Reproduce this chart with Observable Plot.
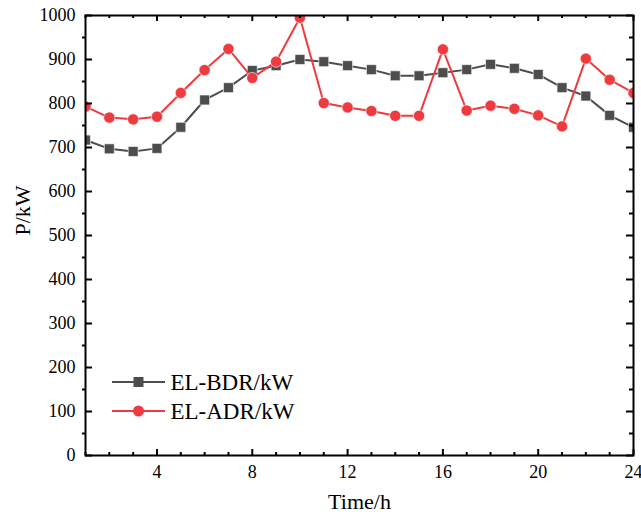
<!DOCTYPE html>
<html><head><meta charset="utf-8">
<script src="https://cdn.jsdelivr.net/npm/d3@7"></script>
<script src="https://cdn.jsdelivr.net/npm/@observablehq/plot@0.6"></script>
<style>body{margin:0;background:#fff}</style>
</head><body><div id="chart"></div>
<script>
const hours = [1,2,3,4,5,6,7,8,9,10,11,12,13,14,15,16,17,18,19,20,21,22,23,24];
const bdr = [717,697,691,698,746,808,836,875,886,900,895,886,877,863,863,870,877,889,880,866,836,817,773,746];
const adr = [793,768,764,770,824,876,924,858,895,995,801,791,783,772,772,923,784,795,788,773,748,902,854,824];
const seriesNames = ["EL-BDR/kW", "EL-ADR/kW"];
const seriesSymbols = ["square", "circle"];
const colors = ["#4d4d4d", "#ee3b3f"];
const xMajor = [4,8,12,16,20,24];
const xMinor = [1,2,3,5,6,7,9,10,11,13,14,15,17,18,19,21,22,23];
const yMajor = [0,100,200,300,400,500,600,700,800,900,1000];
const yMinor = [50,150,250,350,450,550,650,750,850,950];
const xTitle = "Time/h";
const yTitle = "P/kW";

const bdrData = hours.map((h, i) => ({h, v: bdr[i]}));
const adrData = hours.map((h, i) => ({h, v: adr[i]}));

const W = 641, H = 520, mL = 85, mR = 8, mT = 15, mB = 65;
const ih = H - mT - mB, iw = W - mL - mR;
const font = "Liberation Serif, Times New Roman, serif";
const legendY = [382, 411];

function legendSwatches() {
  const g = d3.create("svg:g");
  seriesNames.forEach((name, i) => {
    const y = legendY[i];
    g.append("line").attr("x1", 112).attr("x2", 165).attr("y1", y).attr("y2", y)
      .attr("stroke", colors[i]).attr("stroke-width", 2);
    g.append("path")
      .attr("d", d3.symbol(i === 0 ? d3.symbolSquare : d3.symbolCircle, i === 0 ? 100 : 95)())
      .attr("transform", `translate(138.5,${y})`)
      .attr("fill", colors[i]);
  });
  return g.node();
}

const plot = Plot.plot({
  width: W, height: H,
  marginLeft: mL, marginRight: mR, marginTop: mT, marginBottom: mB,
  style: {fontFamily: font, fontSize: "18px", color: "#000", background: "#fff"},
  x: {domain: [1, 24]},
  y: {domain: [0, 1000]},
  marks: [
    Plot.axisX(xMajor, {tickSize: 0, tickPadding: 10, label: null, fontSize: 18, tickFormat: d => String(d)}),
    Plot.axisY(yMajor, {tickSize: 0, tickPadding: 10, label: null, fontSize: 18, tickFormat: d => String(d)}),
    Plot.line(bdrData, {x: "h", y: "v", stroke: colors[0], strokeWidth: 2, clip: true}),
    Plot.dot(bdrData, {x: "h", y: "v", symbol: seriesSymbols[0], r: 5.6, fill: colors[0], stroke: "white", strokeWidth: 0.6, clip: true}),
    Plot.line(adrData, {x: "h", y: "v", stroke: colors[1], strokeWidth: 2, clip: true}),
    Plot.dot(adrData, {x: "h", y: "v", symbol: seriesSymbols[1], r: 5.6, fill: colors[1], stroke: "white", strokeWidth: 0.6, clip: true}),
    Plot.ruleX(xMajor, {x: d => d, insetTop: ih - 6, strokeWidth: 2}),
    Plot.ruleX(xMajor, {x: d => d, insetBottom: ih - 6, strokeWidth: 2}),
    Plot.ruleX(xMinor, {x: d => d, insetTop: ih - 3, strokeWidth: 2}),
    Plot.ruleX(xMinor, {x: d => d, insetBottom: ih - 3, strokeWidth: 2}),
    Plot.ruleY(yMajor, {y: d => d, insetRight: iw - 7, strokeWidth: 2}),
    Plot.ruleY(yMajor, {y: d => d, insetLeft: iw - 7, strokeWidth: 2}),
    Plot.ruleY(yMinor, {y: d => d, insetLeft: -3, insetRight: iw, strokeWidth: 2}),
    Plot.ruleY(yMinor, {y: d => d, insetLeft: iw - 4, strokeWidth: 2}),
    Plot.frame({stroke: "#000", strokeWidth: 2}),
    Plot.text([xTitle], {frameAnchor: "bottom", dy: 53, fontSize: 22, fill: "#000"}),
    Plot.text([yTitle], {frameAnchor: "left", dx: -63, rotate: -90, fontSize: 22, fill: "#000"}),
    legendSwatches,
    Plot.text([seriesNames[0]], {frameAnchor: "top-left", lineAnchor: "middle", dx: 85, dy: legendY[0] - mT, textAnchor: "start", fontSize: 23, fill: "#000"}),
    Plot.text([seriesNames[1]], {frameAnchor: "top-left", lineAnchor: "middle", dx: 85, dy: legendY[1] - mT, textAnchor: "start", fontSize: 23, fill: "#000"})
  ]
});
document.getElementById("chart").appendChild(plot);
</script>
</body></html>
